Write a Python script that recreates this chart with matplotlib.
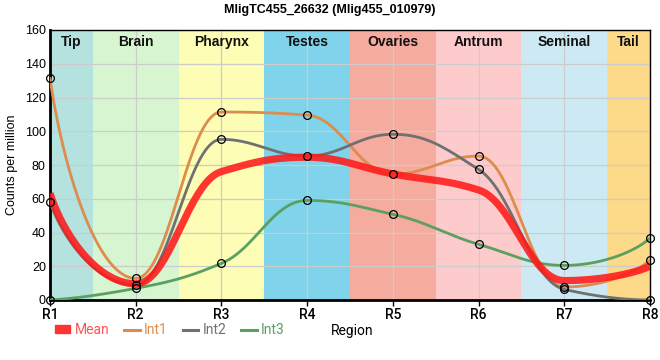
"""Expressió de MligTC455_26632 per regió del cos (Mean + Int1..Int3)."""

import numpy as np
import matplotlib
matplotlib.use("Agg")
import matplotlib.pyplot as plt
from matplotlib.patches import Patch
from matplotlib.lines import Line2D

plt.rcParams["font.family"] = ["Liberation Sans", "DejaVu Sans"]

# Dades
regions = ["R1", "R2", "R3", "R4", "R5", "R6", "R7", "R8"]
band_names = ["Tip", "Brain", "Pharynx", "Testes", "Ovaries", "Antrum", "Seminal", "Tail"]
band_colors = ["#b3e2df", "#d7f5d0", "#fdfdb5", "#7fd3ea",
               "#f5ab9e", "#fdcbcb", "#cdeaf4", "#fdd98a"]

mean = [63.2, 9.6, 76.1, 84.6, 74.7, 65.2, 11.5, 20.1]
int1 = [131.4, 12.8, 111.4, 109.6, 74.5, 85.3, 7.7, 23.7]
int2 = [58.1, 8.9, 95.2, 85.3, 98.2, 77.4, 6.3, 0.0]
int3 = [0.0, 6.9, 21.7, 59.0, 50.8, 33.0, 20.5, 36.7]

series = [("Int1", int1, "#dd8c4e"), ("Int2", int2, "#707070"), ("Int3", int3, "#5aa060")]


def end_slope(a, b):
    """Pendent a l'extrem; (pendent, nansa_extrem, nansa_veí)."""
    if np.sign(a) != np.sign(b):
        return 3 * a, 0.15, 0.45
    e = (3 * a - b) / 2.0
    if np.sign(e) != np.sign(a):
        e = 0.0
    return e, 1 / 3, 1 / 3


def spline(y, n=80, c=0.4):
    """Corba suau monòtona entre punts (Bézier amb nanses més llargues)."""
    y = np.asarray(y, dtype=float)
    npt = len(y)
    d = np.diff(y)
    m = np.zeros(npt)
    for k in range(1, npt - 1):
        if d[k - 1] * d[k] > 0:
            m[k] = 2.0 / (1.0 / d[k - 1] + 1.0 / d[k])
    m[0], ca0, ca1 = end_slope(d[0], d[1])
    m[-1], cb0, cb1 = end_slope(d[-1], d[-2])
    xs, ys = [], []
    t = np.linspace(0, 1, n, endpoint=False)[:, None]
    for k in range(npt - 1):
        c0, c1 = c, c
        if k == 0:
            c0, c1 = ca0, ca1
        if k == npt - 2:
            c0, c1 = cb1, cb0
        p0 = np.array([k, y[k]])
        p1 = np.array([k + c0, y[k] + m[k] * c0])
        p2 = np.array([k + 1 - c1, y[k + 1] - m[k + 1] * c1])
        p3 = np.array([k + 1, y[k + 1]])
        b = ((1 - t) ** 3) * p0 + 3 * ((1 - t) ** 2) * t * p1 + 3 * (1 - t) * t**2 * p2 + t**3 * p3
        xs.append(b[:, 0])
        ys.append(b[:, 1])
    xs.append([npt - 1])
    ys.append([y[-1]])
    return np.concatenate(xs), np.concatenate(ys)


fig = plt.figure(figsize=(6.6, 3.6), dpi=100)
ax = fig.add_axes([50 / 660, 60 / 360, 600 / 660, 270 / 360])

# Bandes de fons
edges = [0, 0.5, 1.5, 2.5, 3.5, 4.5, 5.5, 6.5, 7]
for i, (name, col) in enumerate(zip(band_names, band_colors)):
    ax.axvspan(edges[i], edges[i + 1], color=col, zorder=0.1, lw=0)
    ax.text((edges[i] + edges[i + 1]) / 2, 157, name, ha="center", va="top",
            fontsize=10, fontweight="bold", color="#111111", zorder=5)

for name, vals, col in series:
    xs, ys = spline(vals)
    ax.plot(xs, ys, color=col, lw=2.0, zorder=3, solid_capstyle="round")

xs, ys = spline(mean)
ax.plot(xs, ys, color="#ff1a1a", lw=5.2, alpha=0.88, zorder=4, solid_capstyle="butt")

for name, vals, col in series:
    ax.plot(range(len(regions)), vals, ls="none", marker="o", ms=5.6,
            mfc="none", mec="black", mew=0.9, zorder=6, clip_on=False)

ax.set_xlim(0, 7)
ax.set_ylim(0, 160)
ax.set_yticks(range(0, 161, 20))
ax.set_xticks(range(len(regions)))
ax.set_xticklabels(regions, fontfamily="Roboto", fontweight="medium", fontsize=10)
ax.tick_params(axis="y", labelsize=9, length=0, pad=3)
ax.tick_params(axis="x", length=4, width=1, pad=2, color="black")
ax.set_axisbelow(True)
ax.grid(True, color="#cccccc", lw=0.9, zorder=0.5)

for side in ("left", "bottom"):
    ax.spines[side].set_linewidth(2.0)
for side in ("top", "right"):
    ax.spines[side].set_linewidth(1.0)

ax.set_ylabel("Counts per million", fontsize=9, labelpad=5)
fig.suptitle("MligTC455_26632 (Mlig455_010979)", x=330 / 660, y=1 - 4 / 360,
             va="top", fontsize=9, fontweight="bold")
fig.text(331 / 660, 1 - 331 / 360, "Region", fontfamily="Roboto", fontsize=10, va="center")

handles = [Patch(color="#ff3333", label="Mean")]
handles += [Line2D([], [], color=col, lw=2.2, label=name) for name, vals, col in series]
leg = fig.legend(handles=handles, loc="center left", bbox_to_anchor=(55 / 660, 1 - 330 / 360),
                 ncol=4, frameon=False, handlelength=1.1, handleheight=0.5,
                 handletextpad=0.3, columnspacing=1.1, borderaxespad=0, borderpad=0,
                 prop={"family": "Roboto", "size": 10})
for txt, col in zip(leg.get_texts(), ["#ff5555", "#dd8c4e", "#707070", "#5aa060"]):
    txt.set_color(col)

fig.savefig("out.png", dpi=100)
